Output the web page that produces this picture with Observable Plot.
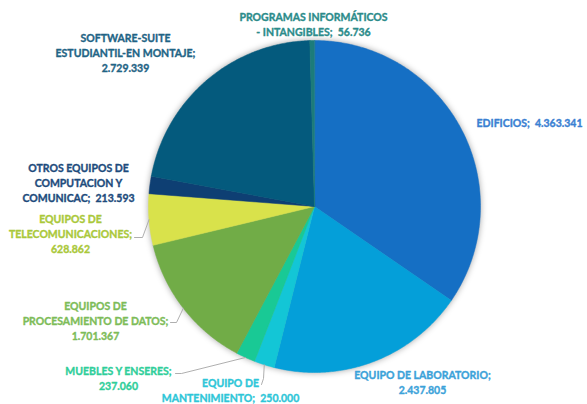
<!DOCTYPE html>
<html><head><meta charset="utf-8">
<script src="https://cdn.jsdelivr.net/npm/d3@7"></script>
<script src="https://cdn.jsdelivr.net/npm/@observablehq/plot@0.6"></script>
<style>body{margin:0;background:#fff;} #chart svg{overflow:visible}</style>
</head><body><div id="chart"></div>
<script>
// ---- data ----
const categories = [
  "EDIFICIOS",
  "EQUIPO DE LABORATORIO",
  "EQUIPO DE MANTENIMIENTO",
  "MUEBLES Y ENSERES",
  "EQUIPOS DE PROCESAMIENTO DE DATOS",
  "EQUIPOS DE TELECOMUNICACIONES",
  "OTROS EQUIPOS DE COMPUTACION Y COMUNICAC",
  "SOFTWARE-SUITE ESTUDIANTIL-EN MONTAJE",
  "PROGRAMAS INFORMÁTICOS - INTANGIBLES"
];
const values = [4363341, 2437805, 250000, 237060, 1701367, 628862, 213593, 2729339, 56736];
// label text with line breaks ({v} = value)
const labelTemplates = [
  "EDIFICIOS;\u00a0 {v}",
  "EQUIPO DE LABORATORIO;\n{v}",
  "EQUIPO DE\nMANTENIMIENTO;\u00a0 {v}",
  "MUEBLES Y ENSERES;\n{v}",
  "EQUIPOS DE\nPROCESAMIENTO DE DATOS;\n{v}",
  "EQUIPOS DE\nTELECOMUNICACIONES;\n{v}",
  "OTROS EQUIPOS DE\nCOMPUTACION Y\nCOMUNICAC;\u00a0 {v}",
  "SOFTWARE-SUITE\nESTUDIANTIL-EN MONTAJE;\n{v}",
  "PROGRAMAS INFORMÁTICOS\n- INTANGIBLES;\u00a0 {v}"
];

// ---- styles / layout ----
const sliceColors = ["#156fc4","#049fd9","#13c6d6","#19c995","#71ac47","#d9e24b","#0e3f73","#045a7d","#1c7c7a"];
const labelColors = ["#3a80d2","#3ba2d9","#2ec6d8","#2fce9a","#7dbc58","#aac83a","#1d4b7c","#1f6485","#2b8b8a"];
const W = 587, H = 404, CX = 314, CY = 206, R = 166;
// label anchor positions (px) and text anchor
const labelPos = [
  {x: 476, y: 122, anchor: "start"},
  {x: 422, y: 381, anchor: "middle"},
  {x: 230, y: 389, anchor: "middle"},
  {x: 118, y: 377, anchor: "middle"},
  {x: 95,  y: 320, anchor: "middle"},
  {x: 70,  y: 233, anchor: "middle"},
  {x: 78,  y: 182, anchor: "middle"},
  {x: 125, y: 52,  anchor: "middle"},
  {x: 313, y: 23,  anchor: "middle"}
];
// leader line start + elbow (px), index into categories
const leaders = [
  {i: 2, pts: [[261, 384], [263, 378]]},
  {i: 3, pts: [[175, 373], [181, 373]]},
  {i: 4, pts: [[170, 322], [176, 322]]},
  {i: 5, pts: [[134, 237], [142, 237]]}
];

const fmt = d3.formatLocale({decimal: ",", thousands: ".", grouping: [3], currency: ["", ""]}).format(",d");
const arcs = d3.pie().sort(null).value(d => d)(values);

const slicePts = [];
arcs.forEach((a, i) => {
  const cat = categories[i];
  slicePts.push({cat, x: CX, y: CY});
  const n = Math.max(2, Math.ceil((a.endAngle - a.startAngle) / 0.01));
  for (let k = 0; k <= n; k++) {
    const t = a.startAngle + (a.endAngle - a.startAngle) * k / n;
    slicePts.push({cat, x: CX + R * Math.sin(t), y: CY - R * Math.cos(t)});
  }
});

const leaderPts = [];
leaders.forEach(l => {
  const a = arcs[l.i];
  const m = (a.startAngle + a.endAngle) / 2;
  l.pts.forEach(p => leaderPts.push({cat: categories[l.i], x: p[0], y: p[1]}));
  leaderPts.push({cat: categories[l.i], x: CX + R * Math.sin(m), y: CY - R * Math.cos(m)});
});

const textMarks = categories.map((c, i) => Plot.text([{
    x: labelPos[i].x, y: labelPos[i].y,
    t: labelTemplates[i].replace("{v}", fmt(values[i]))
  }], {
  x: "x", y: "y", text: "t",
  textAnchor: labelPos[i].anchor, lineAnchor: "middle",
  fill: labelColors[i], stroke: labelColors[i], strokeWidth: 0.35,
  fontSize: 10.5, fontWeight: "bold",
  fontFamily: "Lato, 'Open Sans', sans-serif", lineHeight: 1.43
}));

const chart = Plot.plot({
  width: W, height: H,
  margin: 0,
  x: {domain: [0, W], range: [0, W], axis: null},
  y: {domain: [0, H], range: [0, H], axis: null},
  color: {domain: categories, range: sliceColors},
  marks: [
    Plot.line(slicePts, {x: "x", y: "y", z: "cat", fill: "cat", stroke: "cat", strokeWidth: 0.5, curve: "linear-closed"}),
    Plot.line(leaderPts, {x: "x", y: "y", z: "cat", stroke: "#a6a6a6", strokeWidth: 0.9}),
    ...textMarks
  ]
});
chart.style.background = "#fff";
const g = chart.querySelector('g[aria-label="line"]');
if (g) g.style.filter = "drop-shadow(0px 0px 3px rgba(0,0,0,0.35))";
document.getElementById("chart").appendChild(chart);
</script>
</body></html>
